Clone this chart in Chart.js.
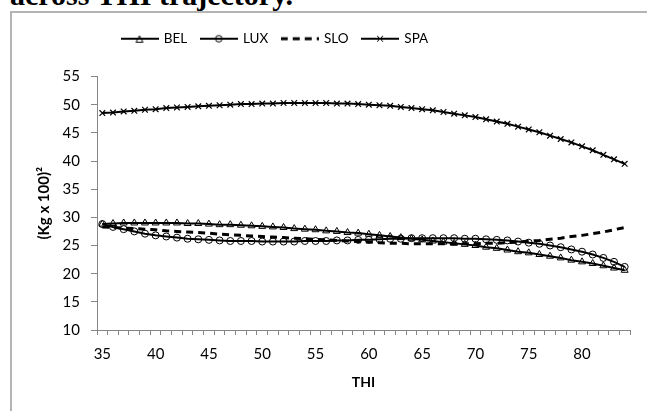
<!DOCTYPE html>
<html><head><meta charset="utf-8">
<script src="https://cdn.jsdelivr.net/npm/chart.js@4.4.1/dist/chart.umd.min.js"></script>
<style>
html,body{margin:0;padding:0;background:#fff;}
#wrap{position:relative;width:647px;height:411px;overflow:hidden;background:#fff;}
#heading{position:absolute;left:10px;top:-20px;font:bold 30px "Liberation Serif";line-height:30px;white-space:nowrap;color:#000;}
#frame{position:absolute;left:10px;top:11px;width:700px;height:500px;border:2px solid #b4b4b4;box-sizing:border-box;}
canvas{position:absolute;left:0;top:0;}
</style></head><body>
<div id="wrap"><div id="heading">across THI trajectory.</div><div id="frame"></div><canvas id="c" width="647" height="411"></canvas></div>
<script>
const thi = [35,36,37,38,39,40,41,42,43,44,45,46,47,48,49,50,51,52,53,54,55,56,57,58,59,
             60,61,62,63,64,65,66,67,68,69,70,71,72,73,74,75,76,77,78,79,80,81,82,83,84];
const bel = [28.8,28.9,29.0,29.0,29.0,29.0,29.0,29.0,28.9,28.9,28.8,28.7,28.7,28.6,28.5,28.4,28.3,28.2,28.0,27.9,
             27.8,27.6,27.5,27.3,27.2,27.0,26.8,26.6,26.4,26.2,26.0,25.8,25.6,25.4,25.2,25.0,24.7,24.5,24.2,23.9,
             23.7,23.4,23.1,22.8,22.4,22.1,21.8,21.4,21.0,20.6];
const lux = [28.8,28.3,27.9,27.5,27.1,26.8,26.6,26.4,26.2,26.1,26.0,25.9,25.8,25.8,25.8,25.7,25.7,25.7,25.7,25.8,
             25.8,25.8,25.9,25.9,26.0,26.0,26.1,26.2,26.2,26.3,26.3,26.3,26.3,26.3,26.2,26.2,26.1,26.0,25.9,25.7,
             25.5,25.3,25.0,24.7,24.3,23.9,23.4,22.8,22.1,21.2];
const slo = [28.3,28.2,28.1,28.0,27.9,27.8,27.6,27.5,27.4,27.3,27.2,27.0,26.9,26.8,26.7,26.6,26.5,26.4,26.3,26.2,
             26.1,26.0,25.9,25.8,25.7,25.6,25.5,25.4,25.4,25.3,25.3,25.3,25.3,25.3,25.3,25.3,25.4,25.4,25.5,25.6,
             25.8,25.9,26.1,26.3,26.6,26.8,27.1,27.4,27.8,28.2];
const spa = [48.5,48.6,48.8,48.9,49.1,49.2,49.4,49.5,49.6,49.7,49.8,49.9,50.0,50.1,50.1,50.2,50.2,50.3,50.3,50.3,
             50.3,50.3,50.2,50.2,50.1,50.0,49.9,49.8,49.6,49.4,49.2,49.0,48.7,48.4,48.1,47.8,47.4,47.0,46.6,46.1,
             45.6,45.1,44.5,43.9,43.3,42.6,41.9,41.1,40.3,39.5];
const seriesNames = ['BEL','LUX','SLO','SPA'];
const yTicks = {min:10, max:55, step:5};

const FONT = 'Lato';
function icon(kind){
  const c = document.createElement('canvas');
  c.width = 38; c.height = 12;
  const g = c.getContext('2d');
  g.strokeStyle = '#000';
  g.lineWidth = kind === 'SLO' ? 3 : 2;
  if (kind === 'SLO') g.setLineDash([7,5]);
  g.beginPath(); g.moveTo(0,6); g.lineTo(38,6); g.stroke();
  g.setLineDash([]); g.lineWidth = 1;
  g.beginPath();
  if (kind === 'BEL'){ g.moveTo(15.5,9.5); g.lineTo(22.5,9.5); g.lineTo(19,3); g.closePath(); }
  if (kind === 'LUX'){ g.arc(19,6,3.3,0,Math.PI*2); }
  if (kind === 'SPA'){ g.moveTo(16,3); g.lineTo(22,9); g.moveTo(22,3); g.lineTo(16,9); }
  g.stroke();
  return c;
}
const icons = seriesNames.map(icon);

const legendTweak = {
  id:'legendTweak',
  beforeInit(chart){
    const orig = chart.legend.fit;
    chart.legend.fit = function(){ orig.call(this); this.height += 21; };
  },
  beforeDraw(chart){ chart.legend.left = 108; }
};

new Chart(document.getElementById('c'), {
  type:'line',
  data:{
    labels: thi,
    datasets:[
      {label:seriesNames[0], data:bel, borderColor:'#000', borderWidth:2, pointStyle:'triangle', pointRadius:4,
       pointBorderWidth:1, pointBorderColor:'#000', pointBackgroundColor:'rgba(0,0,0,0)'},
      {label:seriesNames[1], data:lux, borderColor:'#000', borderWidth:2, pointStyle:'circle', pointRadius:3.5,
       pointBorderWidth:1, pointBorderColor:'#000', pointBackgroundColor:'rgba(0,0,0,0)'},
      {label:seriesNames[2], data:slo, borderColor:'#000', borderWidth:3, borderDash:[7,5], pointRadius:0},
      {label:seriesNames[3], data:spa, borderColor:'#000', borderWidth:2, pointStyle:'crossRot', pointRadius:4,
       pointBorderWidth:1.2, pointBorderColor:'#000', pointBackgroundColor:'rgba(0,0,0,0)'}
    ]
  },
  options:{
    responsive:false, animation:false,
    layout:{padding:{left:31,right:17,top:18,bottom:16}},
    plugins:{
      tooltip:{enabled:false},
      legend:{
        position:'top', align:'start',
        labels:{
          usePointStyle:true, pointStyleWidth:35, padding:14, color:'#000',
          font:{family:FONT,size:13.5},
          generateLabels(chart){
            return chart.data.datasets.map((ds,i)=>({text:ds.label, pointStyle:icons[i], fillStyle:'rgba(0,0,0,0)',
              strokeStyle:'rgba(0,0,0,0)', lineWidth:0, hidden:false, datasetIndex:i, fontColor:'#000'}));
          }
        }
      }
    },
    scales:{
      x:{
        type:'category', offset:true,
        grid:{offset:true, drawOnChartArea:false, drawTicks:true, tickLength:5, color:'#868686', lineWidth:1},
        border:{color:'#868686', width:1},
        ticks:{autoSkip:false, maxRotation:0, minRotation:0, padding:10, color:'#000', font:{family:FONT,size:15},
          callback(v){ const l = this.getLabelForValue(v); return (l % 5 === 0) ? String(l) : ''; }},
        title:{display:true, text:'THI', color:'#000', font:{family:FONT,size:14,weight:'bold'}},
        afterFit(s){ s.height = 65; }
      },
      y:{
        min:yTicks.min, max:yTicks.max,
        grid:{drawOnChartArea:false, drawTicks:true, tickLength:6, color:'#868686', lineWidth:1},
        border:{color:'#868686', width:1},
        ticks:{stepSize:yTicks.step, padding:11, color:'#000', font:{family:FONT,size:15}},
        title:{display:true, text:'(Kg x 100)²', color:'#000', font:{family:FONT,size:15,weight:'bold'}},
        afterFit(s){ s.width = 66; }
      }
    }
  },
  plugins:[legendTweak]
});
</script>
</body></html>
